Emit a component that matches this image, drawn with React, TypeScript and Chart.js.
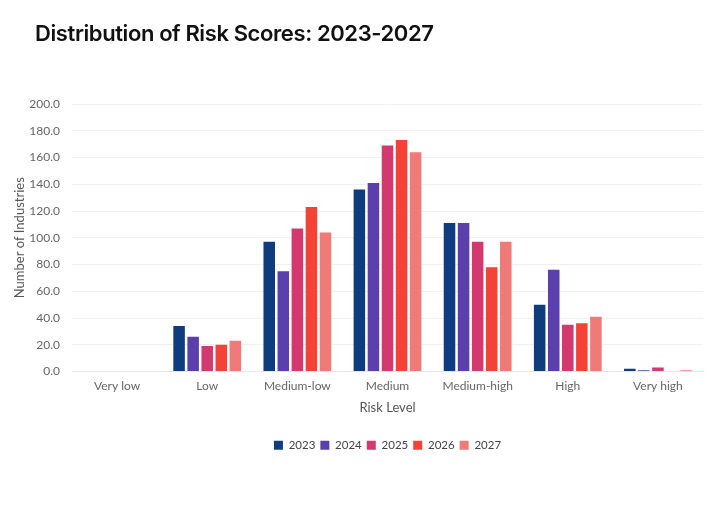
import React, { useEffect, useRef } from "react";
import { Chart, registerables } from "chart.js";

Chart.register(...registerables);

const categories = ["Very low", "Low", "Medium-low", "Medium", "Medium-high", "High", "Very high"];
const years = ["2023", "2024", "2025", "2026", "2027"];
const s2023 = [0, 34, 97, 136, 111, 50, 2];
const s2024 = [0, 26, 75, 141, 111, 76, 1];
const s2025 = [0, 19, 107, 169, 97, 35, 3];
const s2026 = [0, 20, 123, 173, 78, 36, 0];
const s2027 = [0, 23, 104, 164, 97, 41, 1];
const colors = ["#0f3c7d", "#5a3fad", "#d3386f", "#f44336", "#f07a77"];
const yTicks = [0, 20, 40, 60, 80, 100, 120, 140, 160, 180, 200];

const FONT = "Lato, sans-serif";

const centerLegend = {
  id: "centerLegend",
  afterLayout(chart: any) {
    const l = chart.legend;
    const ca = chart.chartArea;
    if (!l || !ca) return;
    const shift = (ca.left + ca.right) / 2 - (l.left + l.right) / 2;
    l.left += shift;
    l.right += shift;
  },
};

export default function App() {
  const ref = useRef<HTMLCanvasElement | null>(null);
  useEffect(() => {
    document.body.style.margin = "0";
    const series = [s2023, s2024, s2025, s2026, s2027];
    const chart = new Chart(ref.current!, {
      type: "bar",
      data: {
        labels: categories,
        datasets: years.map((y, i) => ({
          label: y,
          data: series[i],
          backgroundColor: colors[i],
          borderWidth: 0,
          categoryPercentage: 0.78,
          barPercentage: 0.82,
        })),
      },
      plugins: [centerLegend],
      options: {
        animation: false,
        responsive: false,
        layout: { padding: { left: 12, right: 16, top: 104, bottom: 55 } },
        plugins: {
          title: { display: false },
          tooltip: { enabled: false },
          legend: {
            position: "bottom",
            labels: {
              boxWidth: 9,
              boxHeight: 9,
              padding: 5,
              color: "#444",
              font: { family: FONT, size: 11.5 },
            },
          },
        },
        scales: {
          x: {
            grid: { display: false, drawTicks: false },
            border: { color: "#e6e6e6" },
            ticks: { color: "#666", font: { family: FONT, size: 12 }, padding: 7 },
            title: { display: true, text: "Risk Level", color: "#555", font: { family: FONT, size: 13 }, padding: { top: 0, bottom: 19 } },
          },
          y: {
            min: 0,
            max: 200,
            afterBuildTicks: (axis: any) => {
              axis.ticks = yTicks.map((v) => ({ value: v }));
            },
            afterFit: (axis: any) => {
              axis.width = 60;
            },
            grid: { color: "#f0f0f0", drawTicks: false },
            border: { display: false },
            ticks: {
              color: "#666",
              font: { family: FONT, size: 12 },
              padding: 12,
              callback: (v: any) => Number(v).toFixed(1),
            },
            title: { display: true, text: "Number of Industries", color: "#555", font: { family: FONT, size: 13 }, padding: 0 },
          },
        },
      },
    });
    return () => chart.destroy();
  }, []);
  return (
    <div style={{ position: "relative", width: 719, height: 516 }}>
      <div
        style={{
          position: "absolute",
          left: 35,
          top: 20,
          fontFamily: "'Inter', sans-serif",
          fontSize: 22,
          fontWeight: 600,
          color: "#111",
          letterSpacing: -0.4,
        }}
      >
        Distribution of Risk Scores: 2023-2027
      </div>
      <canvas ref={ref} width={719} height={516} style={{ display: "block" }} />
    </div>
  );
}
